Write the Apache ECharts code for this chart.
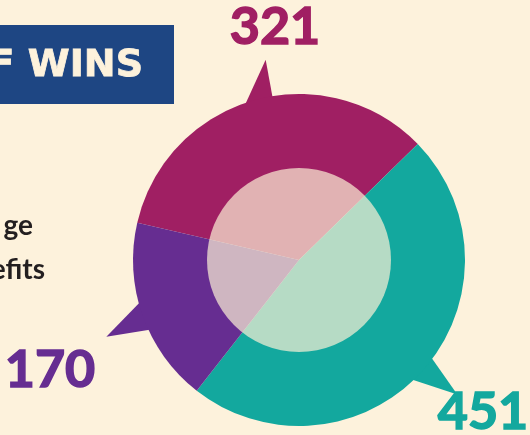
<!DOCTYPE html>
<html>
<head>
<meta charset="utf-8">
<script src="https://cdn.jsdelivr.net/npm/echarts@6/dist/echarts.min.js"></script>
<style>
  html, body { margin: 0; padding: 0; background: #fdf2dc; }
  #main { width: 530px; height: 435px; }
</style>
</head>
<body>
<div id="main"></div>
<script>
// data
var names = ['321', '451', '170'];
var values = [321, 451, 170];
var colors = ['#a01f63', '#13a89e', '#662d91'];
var sideLines = ['ge', 'efits'];
var bannerText = 'F WINS';

// layout
var cx = 299, cy = 260, R = 166, R0 = 92;
var startAngle = 167;
var labelPos = [[275, 27], [483, 412], [50, 370]];

var chart = echarts.init(document.getElementById('main'));

var total = values.reduce(function (s, v) { return s + v; }, 0);

function pt(r, ang) {
  return [cx + r * Math.cos(ang), cy - r * Math.sin(ang)];
}

// banner + side text
var graphics = [
  { type: 'rect', shape: { x: 0, y: 25, width: 174, height: 79 }, style: { fill: '#1e4683' } },
  { type: 'text', style: { text: bannerText, x: 143, y: 66, fill: '#fdf2dc', stroke: '#fdf2dc', lineWidth: 0.8, font: 'bold 38px "DejaVu Sans"', textAlign: 'right', textVerticalAlign: 'middle' } },
  { type: 'text', style: { text: sideLines[0], x: 33, y: 226, fill: '#231f20', font: 'bold 28px Lato', textAlign: 'right', textVerticalAlign: 'middle' } },
  { type: 'text', style: { text: sideLines[1], x: 45, y: 270, fill: '#231f20', font: 'bold 28px Lato', textAlign: 'right', textVerticalAlign: 'middle' } }
];

// speech-bubble pointers: base at each slice's mid angle, tip turned toward its number
var acc = 0;
values.forEach(function (v, i) {
  var a0 = startAngle - acc / total * 360;
  acc += v;
  var a1 = startAngle - acc / total * 360;
  var mid = (a0 + a1) / 2 * Math.PI / 180;
  var half = 6.5 * Math.PI / 180;
  var base = pt(R, mid);
  var lx = labelPos[i][0] - base[0], ly = labelPos[i][1] - base[1];
  var len = Math.sqrt(lx * lx + ly * ly);
  var tip = [base[0] + lx / len * 42, base[1] + ly / len * 42];
  graphics.push({
    type: 'polygon',
    shape: { points: [pt(R - 10, mid + half), tip, pt(R - 10, mid - half)] },
    style: { fill: colors[i] }
  });
  graphics.push({
    type: 'text',
    style: {
      text: names[i],
      x: labelPos[i][0],
      y: labelPos[i][1],
      fill: colors[i],
      stroke: colors[i],
      lineWidth: 1.5,
      font: 'bold 52px Lato',
      textAlign: 'center',
      textVerticalAlign: 'middle'
    }
  });
});

chart.setOption({
  backgroundColor: '#fdf2dc',
  animation: false,
  graphic: graphics,
  series: [
    {
      type: 'pie',
      center: [cx, cy],
      radius: [0, R],
      startAngle: startAngle,
      clockwise: true,
      label: { show: false },
      labelLine: { show: false },
      itemStyle: { borderWidth: 0 },
      data: values.map(function (v, i) {
        return { name: names[i], value: v, itemStyle: { color: colors[i] } };
      }),
      z: 2
    },
    {
      // pale cream disc in the middle
      type: 'pie',
      center: [cx, cy],
      radius: [0, R0],
      silent: true,
      label: { show: false },
      labelLine: { show: false },
      itemStyle: { color: 'rgba(252,241,214,0.7)', borderWidth: 0 },
      data: [{ value: 1 }],
      z: 3
    }
  ]
});
</script>
</body>
</html>
